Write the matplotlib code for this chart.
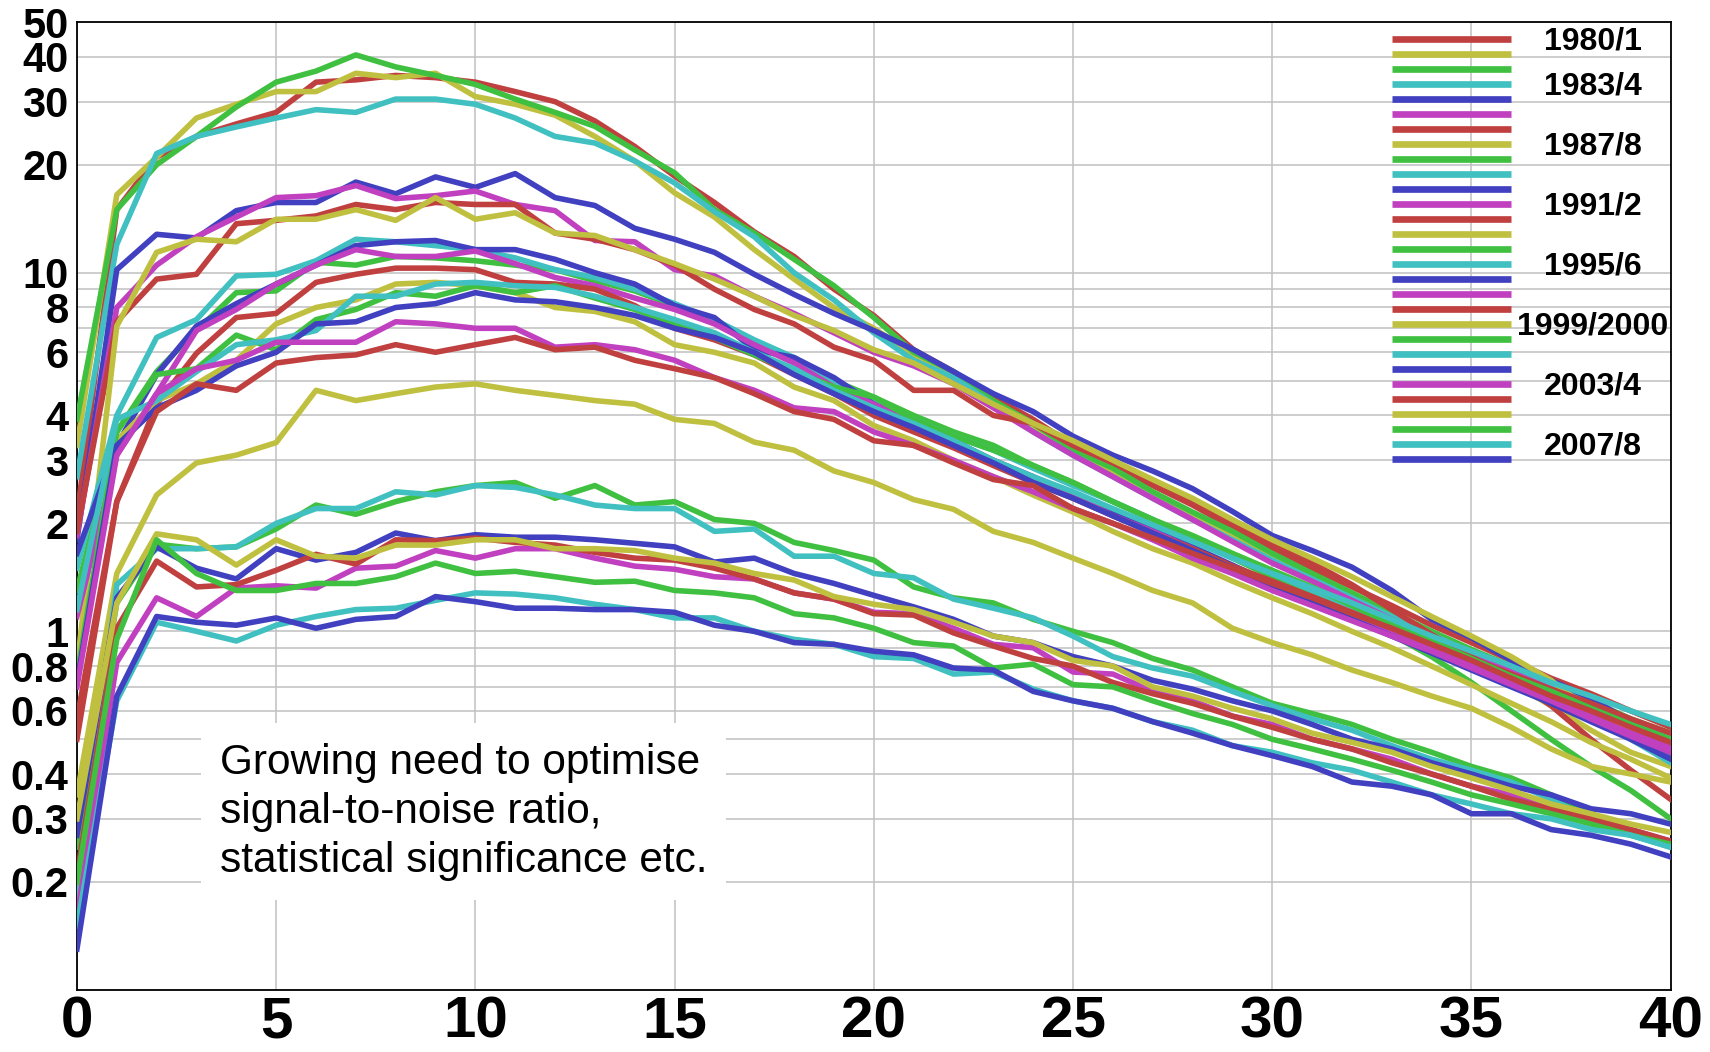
import matplotlib
matplotlib.use("Agg")
import matplotlib.pyplot as plt
from matplotlib.lines import Line2D
from matplotlib.ticker import NullLocator

plt.rcParams['font.family'] = ['Liberation Sans', 'DejaVu Sans']

days = list(range(41))

# one curve per season
v1980 = [2.1, 15.0, 21.0, 24.0, 26.0, 28.0, 34.0, 34.5, 35.5, 35.0, 34.0, 32.0, 30.0, 26.5, 22.5, 18.6, 15.7, 13.0, 11.1, 9.0, 7.6,
         6.1, 5.3, 4.5, 3.9, 3.3, 2.9, 2.55, 2.25, 1.95, 1.7, 1.5, 1.33, 1.18, 1.04, 0.93, 0.83, 0.74, 0.67, 0.6, 0.54]
v1981 = [3.3, 16.5, 21.0, 27.0, 29.5, 32.0, 32.0, 36.0, 35.0, 36.0, 31.0, 29.5, 27.5, 24.0, 20.5, 16.7, 14.3, 11.6, 9.6, 8.0, 7.0,
         5.9, 5.1, 4.3, 3.7, 3.2, 2.8, 2.45, 2.1, 1.85, 1.6, 1.4, 1.22, 1.08, 0.94, 0.82, 0.72, 0.62, 0.53, 0.46, 0.42]
v1982 = [3.9, 15.0, 20.0, 24.0, 29.0, 34.0, 36.5, 40.5, 37.5, 35.5, 33.5, 30.5, 28.0, 25.6, 22.0, 19.0, 15.0, 12.9, 10.9, 9.2, 7.5,
         6.0, 5.3, 4.4, 3.8, 3.2, 2.85, 2.45, 2.15, 1.9, 1.65, 1.45, 1.28, 1.13, 1.0, 0.89, 0.8, 0.71, 0.64, 0.57, 0.52]
v1983 = [2.7, 12.0, 21.5, 24.0, 25.5, 27.0, 28.5, 28.0, 30.5, 30.5, 29.5, 27.0, 24.0, 23.0, 20.5, 17.8, 14.8, 12.6, 10.0, 8.4, 6.8,
         5.7, 5.1, 4.3, 3.6, 3.1, 2.7, 2.35, 2.05, 1.8, 1.58, 1.4, 1.24, 1.1, 0.98, 0.87, 0.78, 0.7, 0.63, 0.56, 0.5]
v1984 = [1.8, 10.2, 12.8, 12.5, 14.9, 15.7, 15.7, 17.9, 16.6, 18.5, 17.3, 18.9, 16.2, 15.4, 13.3, 12.4, 11.4, 9.9, 8.7, 7.7, 6.9,
         6.1, 5.3, 4.6, 4.1, 3.5, 3.1, 2.8, 2.5, 2.16, 1.85, 1.68, 1.51, 1.3, 1.08, 0.96, 0.83, 0.73, 0.65, 0.56, 0.45]
v1985 = [1.85, 8.0, 10.5, 12.6, 14.3, 16.2, 16.4, 17.5, 16.1, 16.4, 16.9, 15.5, 14.9, 12.3, 12.2, 10.2, 9.8, 8.6, 7.7, 6.8, 6.0,
         5.5, 4.9, 4.2, 3.6, 3.1, 2.7, 2.35, 2.05, 1.78, 1.55, 1.38, 1.22, 1.08, 0.96, 0.86, 0.77, 0.69, 0.61, 0.54, 0.48]
v1986 = [1.9, 7.3, 9.6, 9.9, 13.7, 14.0, 14.4, 15.5, 15.0, 15.7, 15.5, 15.5, 12.9, 12.4, 11.6, 10.5, 9.0, 7.9, 7.2, 6.2, 5.7,
         4.7, 4.7, 4.0, 3.8, 3.3, 2.95, 2.6, 2.3, 2.0, 1.75, 1.55, 1.35, 1.15, 0.98, 0.85, 0.74, 0.62, 0.5, 0.41, 0.34]
v1987 = [0.8, 7.1, 11.4, 12.4, 12.2, 14.1, 14.1, 15.0, 14.0, 16.2, 14.1, 14.7, 12.9, 12.7, 11.6, 10.6, 9.6, 8.6, 7.6, 6.9, 6.1,
         5.6, 4.9, 4.3, 3.8, 3.4, 3.0, 2.65, 2.35, 2.05, 1.8, 1.6, 1.42, 1.25, 1.1, 0.97, 0.85, 0.73, 0.6, 0.5, 0.44]
v1988 = [1.3, 3.6, 5.3, 6.9, 8.8, 8.9, 10.7, 10.5, 11.1, 11.0, 10.8, 10.5, 10.2, 9.5, 8.9, 8.1, 7.4, 6.4, 5.7, 5.0, 4.5,
         4.0, 3.6, 3.3, 2.9, 2.6, 2.3, 2.05, 1.8, 1.6, 1.42, 1.27, 1.12, 0.98, 0.85, 0.72, 0.6, 0.5, 0.42, 0.36, 0.3]
v1989 = [1.5, 4.0, 6.6, 7.4, 9.8, 9.9, 10.8, 12.4, 12.2, 11.9, 11.6, 11.0, 10.2, 9.7, 9.0, 8.2, 7.4, 6.5, 5.8, 5.0, 4.4,
         3.9, 3.5, 3.2, 2.85, 2.55, 2.3, 2.05, 1.82, 1.62, 1.45, 1.3, 1.17, 1.04, 0.93, 0.83, 0.74, 0.65, 0.57, 0.5, 0.43]
v1990 = [1.65, 3.3, 5.2, 7.1, 8.2, 9.3, 10.5, 11.9, 12.2, 12.3, 11.6, 11.6, 10.9, 10.0, 9.3, 8.1, 7.5, 6.1, 5.8, 5.1, 4.3,
         3.8, 3.4, 3.0, 2.7, 2.4, 2.15, 1.92, 1.72, 1.53, 1.36, 1.24, 1.12, 1.0, 0.9, 0.8, 0.72, 0.64, 0.57, 0.51, 0.46]
v1991 = [1.1, 3.1, 4.6, 6.9, 7.9, 9.3, 10.5, 11.6, 11.1, 11.1, 11.5, 10.6, 9.7, 9.2, 8.5, 7.9, 7.2, 6.3, 5.6, 4.8, 4.3,
         3.8, 3.3, 3.0, 2.65, 2.4, 2.1, 1.9, 1.7, 1.5, 1.35, 1.22, 1.1, 0.99, 0.89, 0.8, 0.72, 0.65, 0.58, 0.52, 0.47]
v1992 = [0.57, 2.3, 4.3, 5.96, 7.5, 7.7, 9.4, 9.9, 10.3, 10.3, 10.2, 9.4, 9.3, 9.0, 8.1, 7.0, 6.5, 5.9, 5.2, 4.6, 4.0,
         3.6, 3.25, 2.9, 2.6, 2.35, 2.1, 1.88, 1.7, 1.52, 1.38, 1.25, 1.13, 1.02, 0.92, 0.84, 0.76, 0.69, 0.63, 0.57, 0.52]
v1993 = [0.72, 3.4, 4.4, 4.9, 5.7, 7.2, 8.0, 8.4, 9.3, 9.4, 9.2, 8.8, 8.0, 7.8, 7.3, 6.3, 6.0, 5.6, 4.8, 4.4, 3.75,
         3.4, 3.0, 2.7, 2.4, 2.15, 1.9, 1.7, 1.55, 1.38, 1.24, 1.12, 1.0, 0.9, 0.8, 0.71, 0.63, 0.56, 0.49, 0.44, 0.39]
v1994 = [0.75, 3.6, 5.2, 5.4, 6.7, 6.1, 7.4, 7.9, 8.8, 8.6, 9.2, 8.8, 9.2, 8.5, 7.9, 7.2, 6.6, 5.9, 5.3, 4.8, 4.5,
         3.9, 3.5, 3.2, 2.9, 2.6, 2.3, 2.05, 1.85, 1.65, 1.48, 1.33, 1.18, 1.05, 0.94, 0.84, 0.75, 0.68, 0.61, 0.55, 0.5]
v1995 = [1.15, 3.9, 4.4, 5.3, 6.3, 6.5, 6.9, 8.6, 8.6, 9.3, 9.4, 9.2, 9.1, 8.6, 8.0, 7.4, 6.8, 6.0, 5.4, 4.7, 4.2,
         3.8, 3.4, 3.0, 2.7, 2.45, 2.2, 1.98, 1.78, 1.6, 1.45, 1.32, 1.2, 1.08, 0.97, 0.88, 0.8, 0.72, 0.66, 0.6, 0.55]
v1996 = [0.72, 3.3, 4.2, 4.7, 5.5, 6.0, 7.2, 7.3, 8.0, 8.2, 8.8, 8.4, 8.3, 8.0, 7.6, 7.0, 6.6, 6.0, 5.2, 4.6, 4.1,
         3.7, 3.3, 2.95, 2.6, 2.35, 2.1, 1.88, 1.68, 1.5, 1.34, 1.2, 1.08, 0.97, 0.87, 0.78, 0.7, 0.63, 0.56, 0.5, 0.44]
v1997 = [0.7, 3.1, 4.6, 5.4, 5.7, 6.4, 6.4, 6.4, 7.3, 7.2, 7.0, 7.0, 6.2, 6.3, 6.1, 5.7, 5.1, 4.7, 4.2, 4.1, 3.6,
         3.3, 3.0, 2.7, 2.45, 2.2, 2.0, 1.8, 1.6, 1.45, 1.3, 1.18, 1.07, 0.97, 0.88, 0.79, 0.71, 0.64, 0.57, 0.51, 0.46]
v1998 = [0.5, 2.3, 4.1, 4.9, 4.7, 5.6, 5.8, 5.9, 6.3, 6.0, 6.3, 6.6, 6.1, 6.2, 5.7, 5.4, 5.1, 4.6, 4.1, 3.9, 3.4,
         3.3, 2.95, 2.65, 2.55, 2.2, 2.0, 1.82, 1.65, 1.5, 1.36, 1.24, 1.12, 1.02, 0.92, 0.83, 0.74, 0.66, 0.6, 0.54, 0.49]
v1999 = [0.35, 1.45, 2.4, 2.95, 3.1, 3.36, 4.7, 4.4, 4.6, 4.8, 4.9, 4.7, 4.55, 4.4, 4.3, 3.9, 3.8, 3.37, 3.2, 2.8, 2.6,
         2.33, 2.19, 1.9, 1.77, 1.6, 1.45, 1.3, 1.2, 1.02, 0.93, 0.86, 0.78, 0.72, 0.66, 0.61, 0.54, 0.47, 0.42, 0.4, 0.38]
v2000 = [0.25, 1.2, 1.75, 1.7, 1.72, 1.93, 2.25, 2.12, 2.3, 2.45, 2.55, 2.6, 2.35, 2.55, 2.25, 2.3, 2.05, 2.0, 1.77, 1.68, 1.58,
         1.33, 1.24, 1.2, 1.08, 1.0, 0.93, 0.84, 0.78, 0.7, 0.63, 0.59, 0.55, 0.5, 0.46, 0.42, 0.39, 0.35, 0.31, 0.28, 0.255]
v2001 = [0.17, 1.35, 1.7, 1.7, 1.72, 2.0, 2.2, 2.2, 2.45, 2.4, 2.55, 2.52, 2.4, 2.25, 2.2, 2.2, 1.9, 1.93, 1.62, 1.62, 1.45,
         1.41, 1.23, 1.16, 1.09, 0.97, 0.85, 0.79, 0.75, 0.68, 0.62, 0.57, 0.53, 0.48, 0.44, 0.41, 0.38, 0.34, 0.3, 0.27, 0.25]
v2002 = [0.27, 1.24, 1.72, 1.5, 1.4, 1.7, 1.58, 1.66, 1.88, 1.79, 1.86, 1.83, 1.83, 1.8, 1.76, 1.72, 1.56, 1.6, 1.45, 1.36, 1.26,
         1.17, 1.08, 0.97, 0.93, 0.85, 0.8, 0.73, 0.69, 0.64, 0.6, 0.55, 0.5, 0.47, 0.43, 0.4, 0.37, 0.35, 0.32, 0.31, 0.29]
v2003 = [0.16, 0.82, 1.24, 1.1, 1.32, 1.34, 1.32, 1.5, 1.52, 1.68, 1.6, 1.7, 1.7, 1.6, 1.52, 1.49, 1.42, 1.4, 1.28, 1.23, 1.13,
         1.12, 1.02, 0.92, 0.9, 0.77, 0.76, 0.68, 0.64, 0.58, 0.55, 0.5, 0.47, 0.44, 0.4, 0.37, 0.35, 0.32, 0.3, 0.28, 0.26]
v2004 = [0.21, 1.02, 1.57, 1.33, 1.35, 1.48, 1.64, 1.54, 1.8, 1.79, 1.82, 1.77, 1.74, 1.66, 1.6, 1.58, 1.5, 1.4, 1.28, 1.23, 1.12,
         1.11, 0.99, 0.91, 0.84, 0.8, 0.72, 0.67, 0.63, 0.58, 0.54, 0.5, 0.47, 0.43, 0.4, 0.37, 0.34, 0.32, 0.3, 0.28, 0.26]
v2005 = [0.3, 1.2, 1.87, 1.8, 1.53, 1.8, 1.62, 1.6, 1.74, 1.74, 1.8, 1.8, 1.7, 1.7, 1.68, 1.6, 1.55, 1.45, 1.39, 1.25, 1.19,
         1.15, 1.06, 0.97, 0.93, 0.83, 0.8, 0.7, 0.66, 0.61, 0.57, 0.52, 0.49, 0.46, 0.42, 0.39, 0.36, 0.33, 0.31, 0.29, 0.275]
v2006 = [0.2, 0.95, 1.8, 1.45, 1.3, 1.3, 1.36, 1.36, 1.42, 1.55, 1.45, 1.47, 1.42, 1.37, 1.38, 1.3, 1.28, 1.24, 1.12, 1.09, 1.02,
         0.93, 0.91, 0.79, 0.81, 0.71, 0.7, 0.64, 0.59, 0.55, 0.5, 0.47, 0.44, 0.41, 0.38, 0.35, 0.33, 0.31, 0.29, 0.27, 0.255]
v2007 = [0.15, 0.64, 1.06, 1.0, 0.94, 1.04, 1.1, 1.15, 1.16, 1.22, 1.28, 1.27, 1.24, 1.19, 1.15, 1.09, 1.09, 1.0, 0.95, 0.92, 0.85,
         0.84, 0.76, 0.77, 0.69, 0.64, 0.61, 0.56, 0.53, 0.48, 0.46, 0.43, 0.41, 0.38, 0.35, 0.33, 0.31, 0.3, 0.28, 0.27, 0.25]
v2008 = [0.13, 0.66, 1.1, 1.06, 1.04, 1.09, 1.02, 1.08, 1.1, 1.25, 1.21, 1.16, 1.16, 1.15, 1.15, 1.13, 1.04, 1.0, 0.93, 0.92, 0.88,
         0.86, 0.79, 0.78, 0.68, 0.64, 0.61, 0.56, 0.52, 0.48, 0.45, 0.42, 0.38, 0.37, 0.35, 0.31, 0.31, 0.28, 0.27, 0.255, 0.235]

seasons = ['1980/1', '1981/2', '1982/3', '1983/4', '1984/5', '1985/6', '1986/7', '1987/8', '1988/9', '1989/90',
           '1990/1', '1991/2', '1992/3', '1993/4', '1994/5', '1995/6', '1996/7', '1997/8', '1998/9', '1999/2000',
           '2000/1', '2001/2', '2002/3', '2003/4', '2004/5', '2005/6', '2006/7', '2007/8', '2008/9']
curves = [v1980, v1981, v1982, v1983, v1984, v1985, v1986, v1987, v1988, v1989,
          v1990, v1991, v1992, v1993, v1994, v1995, v1996, v1997, v1998, v1999,
          v2000, v2001, v2002, v2003, v2004, v2005, v2006, v2007, v2008]
shown = ['1980/1', '1983/4', '1987/8', '1991/2', '1995/6', '1999/2000', '2003/4', '2007/8']

palette = ['#c04040', '#c0c040', '#40c040', '#40c0c0', '#4040c0', '#c040c0']

grid_vals = [0.1, 0.2, 0.3, 0.4, 0.5, 0.6, 0.7, 0.8, 0.9, 1, 2, 3, 4, 5, 6, 7, 8, 9, 10, 20, 30, 40, 50]
label_vals = [0.2, 0.3, 0.4, 0.6, 0.8, 1, 2, 3, 4, 6, 8, 10, 20, 30, 40, 50]

fig = plt.figure(figsize=(17.1, 10.52), dpi=100)
ax = fig.add_axes([0.045, 0.059, 0.932, 0.92])

for i, vals in enumerate(curves):
    ax.plot(days, vals, color=palette[i % 6], lw=4.0, zorder=3)

ax.set_yscale('log')
ax.set_ylim(0.1, 50)
ax.set_xlim(0, 40)

ax.set_yticks(grid_vals)
ax.set_yticklabels([('%g' % v) if v in label_vals else '' for v in grid_vals])
ax.yaxis.set_minor_locator(NullLocator())
ax.set_xticks(range(0, 41, 5))

ax.grid(True, color='#c0c0c0', lw=1.1)
ax.set_axisbelow(True)
ax.tick_params(axis='y', length=0, pad=6, labelsize=30)
ax.tick_params(axis='x', length=0, pad=4, labelsize=42)
for lab in ax.get_xticklabels() + ax.get_yticklabels():
    lab.set_fontweight('bold')
for sp in ax.spines.values():
    sp.set_linewidth(1.3)

# hand-made legend: one short bar per season, a label every few seasons
for i, name in enumerate(seasons):
    yy = 1 - (17 + 15 * i) / 968
    ax.add_line(Line2D([0.825, 0.9], [yy, yy], transform=ax.transAxes,
                       color=palette[i % 6], lw=4.8, solid_capstyle='butt', zorder=4))
    if name in shown:
        ax.text(0.951, yy - 0.003, name, transform=ax.transAxes, ha='center', va='center',
                fontsize=23, fontweight='bold', zorder=5)

ax.text(0.0897, 0.184, "Growing need to optimise\nsignal-to-noise ratio,\nstatistical significance etc.",
        transform=ax.transAxes, ha='left', va='center', fontsize=30.5, linespacing=1.3,
        bbox=dict(facecolor='white', edgecolor='none', boxstyle='square,pad=0.45'), zorder=5)

fig.savefig('out.png', dpi=100)
